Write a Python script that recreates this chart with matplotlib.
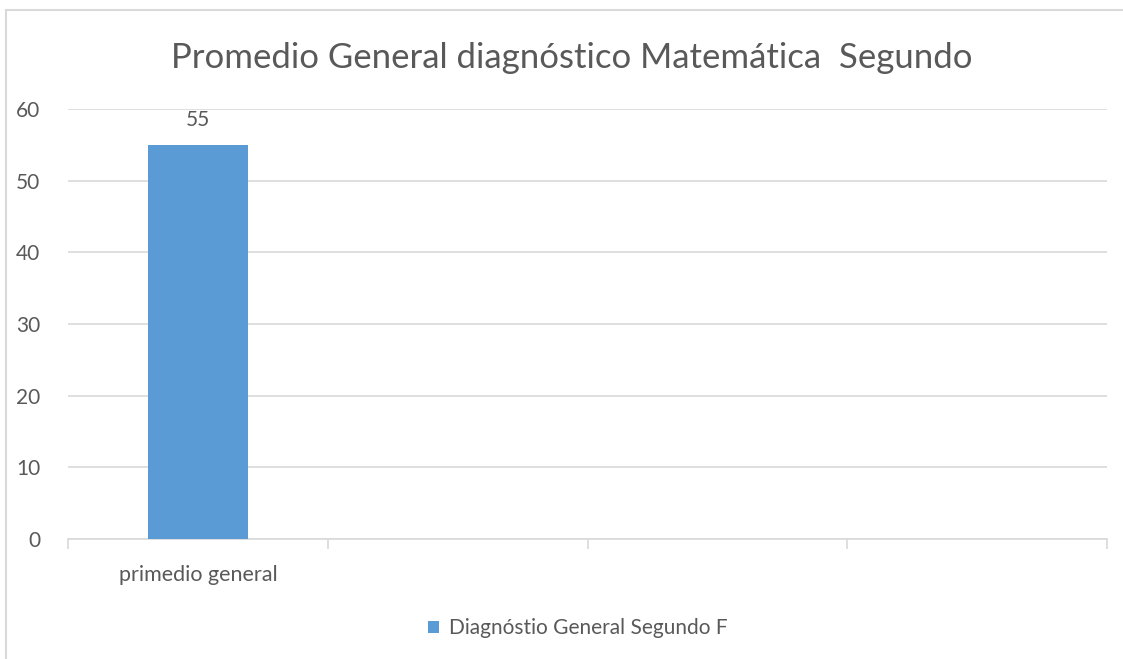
import numpy as np
import matplotlib.pyplot as plt
import matplotlib
from matplotlib.patches import Rectangle

matplotlib.rcParams.update({'font.family': 'Lato'})

categories = ["primedio general", "", "", ""]
values = [55, np.nan, np.nan, np.nan]
series_name = "Diagnóstio General Segundo F"
title = "Promedio General diagnóstico Matemática  Segundo"
yticks = [0, 10, 20, 30, 40, 50, 60]

blue = "#5b9bd5"
grey_txt = "#595959"
grey_line = "#d9d9d9"

fig = plt.figure(figsize=(11.23, 6.59), dpi=100)
# chart border like the spreadsheet frame
fig.patches.append(Rectangle((6 / 1123, -0.01), 1.1, 1 - 10 / 659 + 0.01,
                             transform=fig.transFigure, fill=False,
                             edgecolor=grey_line, linewidth=1.5))

ax = fig.add_axes([68 / 1123, 120 / 659, (1107 - 68) / 1123, (539 - 109) / 659])
x = np.arange(len(categories))
bars = ax.bar(x, values, width=0.385, color=blue, label=series_name, zorder=3)
for xi, v in zip(x, values):
    if not np.isnan(v):
        ax.text(xi, v + 2.0, f"{v:g}", ha="center", va="bottom",
                fontsize=15, color=grey_txt)

ax.set_xlim(-0.5, len(categories) - 0.5)
ax.set_ylim(0, 60)
ax.set_yticks(yticks)
ax.yaxis.grid(True, color=grey_line, linewidth=1.2, zorder=0)
ax.set_axisbelow(True)
ax.tick_params(axis="y", length=0, labelsize=15, labelcolor=grey_txt, pad=20)

# boundary ticks between categories, labels in the centre
ax.set_xticks(np.arange(-0.5, len(categories)), minor=False)
ax.set_xticklabels([])
ax.set_xticks(x, minor=True)
ax.set_xticklabels(categories, minor=True)
ax.tick_params(axis="x", which="major", length=7, color=grey_line, width=1.2)
ax.tick_params(axis="x", which="minor", length=0, labelsize=15.5,
               labelcolor=grey_txt, pad=19)

for s in ["top", "right", "left"]:
    ax.spines[s].set_visible(False)
ax.spines["bottom"].set_color(grey_line)
ax.spines["bottom"].set_linewidth(1.2)

fig.text(0.5 * (173 + 970) / 1123, 1 - 58 / 659, title, ha="center", va="center",
         fontsize=25, color=grey_txt)

fig.legend(handles=[bars], labels=[series_name], loc="center",
           bbox_to_anchor=(578 / 1123, 1 - 628 / 659), frameon=False,
           fontsize=15, labelcolor=grey_txt, handlelength=0.5, handleheight=0.5,
           handletextpad=0.5)

fig.savefig("out.png", dpi=100)
